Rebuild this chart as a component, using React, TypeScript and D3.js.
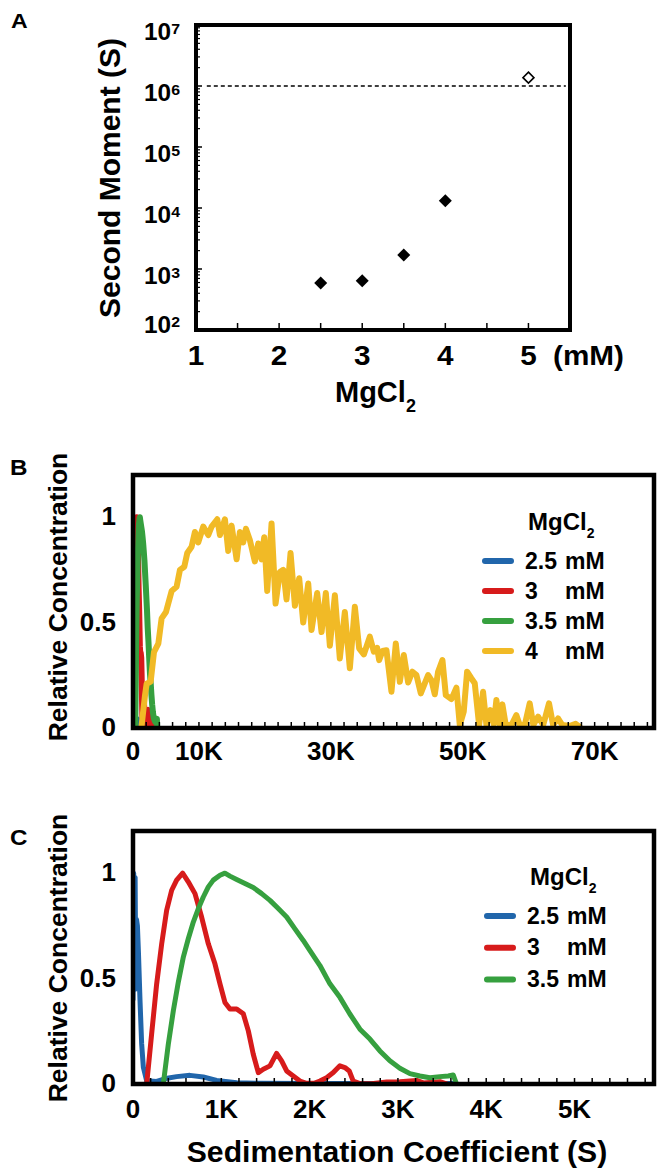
import React from 'react';
import * as d3 from 'd3';

const FONT = "'Liberation Sans', Arial, Helvetica, sans-serif";

// ---- panel A: second moment vs MgCl2 ----
const mgFilled = [2.5, 3, 3.5, 4];
const momentFilled = [590, 640, 1700, 13200];
const mgOpen = [5];
const momentOpen = [1.37e6];
const thresholdMoment = 1e6;
const thresholdSpan = [1.13, 5.45];
const aExponents = [2, 3, 4, 5, 6, 7];
const aXLabels = [1, 2, 3, 4, 5];
const aXTicks = [1.5, 2, 2.5, 3, 3.5, 4, 4.5, 5];

// ---- panels B / C: sedimentation coefficient distributions ----
const legendNames = ['2.5', '3', '3.5', '4'];
const seriesColors = ['#2166ab', '#d71b1b', '#36a03f', '#f1ba26'];

const blueS = [0, 8, 16, 24, 32, 40, 50, 62, 79, 98, 117, 155, 268, 370, 494, 645, 796, 947, 1174, 1460, 2000, 3000, 3650];
const blueV = [0.4, 1.0, 0.55, 0.98, 0.45, 0.78, 0.75, 0.62, 0.4, 0.19, 0.08, 0.015, 0.012, 0.026, 0.035, 0.041, 0.033, 0.017, 0.006, 0.003, 0.002, 0.002, 0.002];

const redS = [155, 211, 268, 325, 381, 438, 494, 562, 626, 702, 777, 853, 928, 985, 1041, 1098, 1174, 1249, 1306, 1362, 1419, 1475, 1551, 1626, 1683, 1740, 1815, 1890, 1966, 2050, 2117, 2192, 2268, 2343, 2400, 2449, 2494, 2570, 2700, 2872, 3022, 3211, 3287, 3475, 3551];
const redV = [0, 0.237, 0.475, 0.665, 0.824, 0.919, 0.967, 1.0, 0.959, 0.903, 0.792, 0.665, 0.57, 0.475, 0.387, 0.356, 0.356, 0.333, 0.252, 0.141, 0.054, 0.07, 0.086, 0.145, 0.11, 0.062, 0.038, 0.014, 0.003, 0.003, 0.014, 0.03, 0.054, 0.086, 0.078, 0.062, 0.014, 0.002, 0.001, 0.009, 0.011, 0.017, 0.005, 0.011, 0.001];

const greenS = [343, 400, 457, 513, 570, 626, 683, 740, 796, 853, 909, 985, 1041, 1098, 1174, 1268, 1362, 1457, 1551, 1645, 1740, 1834, 1928, 2004, 2117, 2230, 2343, 2456, 2570, 2683, 2796, 2909, 3022, 3136, 3249, 3362, 3475, 3570, 3626, 3664];
const greenV = [0, 0.189, 0.348, 0.483, 0.602, 0.689, 0.768, 0.832, 0.887, 0.935, 0.967, 0.99, 1.0, 0.986, 0.97, 0.951, 0.932, 0.903, 0.871, 0.832, 0.792, 0.736, 0.681, 0.633, 0.562, 0.475, 0.411, 0.332, 0.26, 0.213, 0.157, 0.11, 0.075, 0.049, 0.038, 0.03, 0.035, 0.038, 0.043, 0];

const yellowS = [1300, 1820, 2070, 2680, 3180, 3840, 4340, 5000, 5860, 6610, 7120, 7780, 8230, 8890, 9390, 9900, 10650, 11410, 11920, 12780, 13180, 13940, 14440, 14950, 15710, 16210, 16710, 17120, 17730, 18480, 18990, 19490, 19900, 20350, 21010, 21620, 22270, 22780, 23280, 23890, 24550, 25200, 25810, 26570, 27070, 27930, 28590, 29240, 29850, 30610, 31360, 32120, 32880, 33640, 34290, 35000, 35910, 36520, 37020, 37320, 37830, 38430, 39190, 39850, 40460, 41060, 41720, 42370, 42980, 43640, 44240, 44750, 45250, 45760, 46260, 46920, 47430, 48280, 49040, 49550, 50150, 50660, 51320, 51820, 52480, 53080, 53590, 54190, 54700, 55100, 55610, 56010, 56520, 57380, 58130, 58640, 59400, 60150, 60700, 61420, 62200, 63080, 63700, 64450, 65100, 66300, 67120, 67730];
const yellowV = [0.01, 0.155, 0.21, 0.22, 0.36, 0.4, 0.52, 0.55, 0.65, 0.67, 0.75, 0.765, 0.83, 0.86, 0.93, 0.88, 0.955, 0.915, 0.955, 0.99, 0.915, 0.99, 0.84, 0.96, 0.8, 0.93, 0.88, 0.945, 0.89, 0.79, 0.875, 0.8, 0.905, 0.65, 0.97, 0.59, 0.74, 0.75, 0.61, 0.83, 0.58, 0.71, 0.5, 0.685, 0.465, 0.64, 0.455, 0.64, 0.39, 0.63, 0.33, 0.55, 0.283, 0.575, 0.378, 0.349, 0.433, 0.362, 0.38, 0.322, 0.365, 0.369, 0.172, 0.401, 0.219, 0.346, 0.216, 0.267, 0.251, 0.164, 0.212, 0.251, 0.227, 0.16, 0.267, 0.322, 0.156, 0.137, 0.191, 0.014, 0.077, 0.267, 0.235, 0.212, 0.014, 0.172, 0.014, 0.085, 0.018, 0.133, 0.014, 0.112, 0.014, 0.014, 0.061, 0.014, 0.014, 0.117, 0.014, 0.054, 0.014, 0.117, 0.014, 0.045, 0.014, 0.01, 0.02, 0.005];

const concTicks = [0, 0.5, 1];
const bXLabels = [0, 10000, 30000, 50000, 70000];
const cXLabels = [0, 1000, 2000, 3000, 4000, 5000];

const fmtK = (v: number) => (v === 0 ? '0' : `${v / 1000}K`);

// horizontal text, a little stretched like the original figure
function HText({ x, y, size, sx = 1, anchor = 'start', children }: {
  x: number; y: number; size: number; sx?: number; anchor?: string; children: React.ReactNode;
}) {
  return (
    <text transform={`translate(${x},${y}) scale(${sx},1)`} fontSize={size} textAnchor={anchor}>
      {children}
    </text>
  );
}

function PanelA() {
  const x = d3.scaleLinear().domain([1, 5.5]).range([196, 570]);
  const y = d3.scaleLog().domain([1e2, 1e7]).range([330, 25]);
  const minors: number[] = [];
  for (let e = 2; e < 7; e++) for (let k = 2; k <= 9; k++) minors.push(k * Math.pow(10, e));
  const diamond = (cx: number, cy: number, r: number) =>
    `M${cx},${cy - r}L${cx + r},${cy}L${cx},${cy + r}L${cx - r},${cy}Z`;

  return (
    <g fontFamily={FONT} fontWeight="bold">
      <HText x={11} y={28} size={21} sx={1.1}>A</HText>
      {minors.map((m, i) => (
        <line key={'m' + i} x1={x(1)} x2={x(1) + 4} y1={y(m)} y2={y(m)} stroke="#000" strokeWidth={1.2} />
      ))}
      {aExponents.map(e => (
        <line key={'M' + e} x1={x(1)} x2={x(1) + 6} y1={y(Math.pow(10, e))} y2={y(Math.pow(10, e))} stroke="#000" strokeWidth={1.5} />
      ))}
      {aXTicks.map(t => (
        <line key={'xt' + t} x1={x(t)} x2={x(t)} y1={y(1e2)} y2={y(1e2) - 7} stroke="#000" strokeWidth={1.5} />
      ))}
      <line x1={x(thresholdSpan[0])} x2={x(thresholdSpan[1])} y1={y(thresholdMoment)} y2={y(thresholdMoment)}
        stroke="#000" strokeWidth={1.5} strokeDasharray="4,3" />
      <rect x={x(1)} y={y(1e7)} width={x(5.5) - x(1)} height={y(1e2) - y(1e7)} fill="none" stroke="#000" strokeWidth={4} />
      {mgFilled.map((m, i) => (
        <path key={'f' + i} d={diamond(x(m), y(momentFilled[i]), 6.5)} fill="#000" />
      ))}
      {mgOpen.map((m, i) => (
        <path key={'o' + i} d={diamond(x(m), y(momentOpen[i]), 5.5)} fill="#fff" stroke="#000" strokeWidth={1.6} />
      ))}
      {aExponents.map(e => (
        <HText key={'yl' + e} x={180} y={Math.min(y(Math.pow(10, e)) + 15, 333)} size={23} sx={1.06} anchor="end">
          10<tspan dy={-6} fontSize={15}>{e}</tspan>
        </HText>
      ))}
      {aXLabels.map(v => (
        <HText key={'xl' + v} x={x(v)} y={365} size={27} sx={1.1} anchor="middle">{v}</HText>
      ))}
      <HText x={553} y={365} size={27} sx={1.1}>(mM)</HText>
      <HText x={335} y={402} size={29}>MgCl<tspan dy={10} fontSize={18}>2</tspan></HText>
      <text transform="translate(120,178) rotate(-90)" fontSize={30} textAnchor="middle">Second Moment (S)</text>
    </g>
  );
}

type Series = { s: number[]; v: number[]; color: string };

function ConcPanel(props: {
  letter: string; letterY: number; top: number; bottom: number; xMax: number; tickStep: number;
  xLabels: number[]; series: Series[]; legendNames: string[]; legendTitleY: number; legendY0: number;
  legendDy: number; legendX: number; titleCenter: number; lineW: number; labelY: number;
}) {
  const { top, bottom } = props;
  const x = d3.scaleLinear().domain([0, props.xMax]).range([133, 654]);
  const y = d3.scaleLinear().domain([0, 1.2]).range([bottom, top]);
  const ticks = d3.range(props.tickStep, props.xMax, props.tickStep);
  const lx = props.legendX;

  return (
    <g fontFamily={FONT} fontWeight="bold">
      <HText x={10} y={props.letterY} size={22} sx={1.1}>{props.letter}</HText>
      <defs>
        <clipPath id={'clip' + props.letter}>
          <rect x={133} y={top} width={521} height={bottom - top} />
        </clipPath>
      </defs>
      <g clipPath={`url(#clip${props.letter})`}>
        {props.series.map((sr, k) => {
          const line = d3.line<number>()
            .x((_, i) => x(sr.s[i]))
            .y((_, i) => y(sr.v[i]));
          return <path key={k} d={line(sr.v) || ''} fill="none" stroke={sr.color} strokeWidth={props.lineW}
            strokeLinejoin="round" strokeLinecap="round" />;
        })}
      </g>
      {ticks.map(t => (
        <line key={'t' + t} x1={x(t)} x2={x(t)} y1={bottom} y2={bottom - 6} stroke="#000" strokeWidth={1.5} />
      ))}
      <rect x={133} y={top} width={521} height={bottom - top} fill="none" stroke="#000" strokeWidth={4.5} />
      {concTicks.map(v => (
        <HText key={'yl' + v} x={116} y={y(v) + 8} size={25} sx={1.04} anchor="end">{v}</HText>
      ))}
      {props.xLabels.map(v => (
        <HText key={'xl' + v} x={x(v)} y={props.labelY} size={25} sx={1.04} anchor="middle">{fmtK(v)}</HText>
      ))}
      <text transform={`translate(67,${props.titleCenter}) rotate(-90)`} fontSize={26.5} textAnchor="middle">
        Relative Concentration
      </text>
      {/* legend */}
      <HText x={lx + 3} y={props.legendTitleY} size={24}>MgCl<tspan dy={8} fontSize={14}>2</tspan></HText>
      {props.legendNames.map((n, i) => {
        const ly = props.legendY0 + i * props.legendDy;
        return (
          <g key={n}>
            <line x1={lx - 40} x2={lx - 14} y1={ly} y2={ly} stroke={props.series[i].color} strokeWidth={6} strokeLinecap="round" />
            <HText x={lx} y={ly + 7.5} size={23}>{n}</HText>
            <HText x={lx + 40} y={ly + 7.5} size={23}>mM</HText>
          </g>
        );
      })}
    </g>
  );
}

export default function App() {
  const cSeries: Series[] = [
    { s: blueS, v: blueV, color: seriesColors[0] },
    { s: redS, v: redV, color: seriesColors[1] },
    { s: greenS, v: greenV, color: seriesColors[2] },
  ];
  const bSeries: Series[] = [...cSeries, { s: yellowS, v: yellowV, color: seriesColors[3] }];

  return (
    <div style={{ position: 'absolute', left: 0, top: 0 }}>
      <svg width={657} height={1170} style={{ display: 'block', background: '#fff' }}>
        <PanelA />
        <ConcPanel letter="B" letterY={475} top={475} bottom={728} xMax={79000} tickStep={2000}
          xLabels={bXLabels} series={bSeries} legendNames={legendNames} legendTitleY={530}
          legendY0={561} legendDy={30} legendX={525} titleCenter={597} lineW={6} labelY={760} />
        <ConcPanel letter="C" letterY={845} top={831} bottom={1084} xMax={5900} tickStep={200}
          xLabels={cXLabels} series={cSeries} legendNames={legendNames.slice(0, 3)} legendTitleY={885}
          legendY0={916} legendDy={31.7} legendX={527} titleCenter={958} lineW={5} labelY={1118} />
        <g fontFamily={FONT} fontWeight="bold">
          <HText x={397} y={1162} size={29} sx={1.04} anchor="middle">Sedimentation Coefficient (S)</HText>
        </g>
      </svg>
    </div>
  );
}
